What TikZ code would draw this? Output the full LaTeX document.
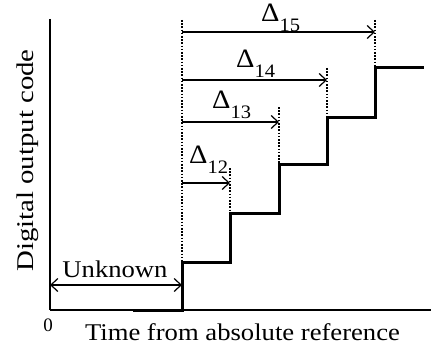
\documentclass[tikz,border=0pt]{standalone}
\usepackage{fontspec}
\setmainfont{Liberation Serif}
\usetikzlibrary{arrows.meta}
\newcommand{\dlab}[1]{\scalebox{1.08}[1]{Δ\raisebox{-0.38em}{\fontsize{19}{19}\selectfont #1}}}
\newcommand{\wtext}[1]{\scalebox{1.11}[1]{#1}}
\begin{document}
\begin{tikzpicture}[x=1pt,y=-1pt,
 axis/.style={line width=2.8pt},
 xaxis/.style={line width=2.2pt},
 stair/.style={line width=3pt, line join=miter},
 guide/.style={line width=1.4pt, dash pattern=on 1.6pt off 1.6pt},
 tip/.tip={Straight Barb[length=7pt,width=13pt,line width=1.2pt]},
 meas/.style={line width=1.2pt,-tip},
 both/.style={line width=1.2pt,tip-tip},
 big/.style={inner sep=0pt, font=\fontsize{24}{24}\selectfont},
 dl/.style={inner sep=0pt, anchor=base west, font=\fontsize{26.5}{26.5}\selectfont}
]
\useasboundingbox (0,0) rectangle (431,353);
% axes
\coordinate (O) at (50,310);
\coordinate (Ytop) at (50,19);
\coordinate (Xend) at (431,310);
\draw[xaxis] (O) -- (Xend);
\draw[axis] (Ytop) -- (O);
% staircase
\coordinate (s0) at (133,310);
\coordinate (s1) at (182,310);
\coordinate (s1t) at (182,262);
\coordinate (s2) at (230,262);
\coordinate (s2t) at (230,213);
\coordinate (s3) at (279,213);
\coordinate (s3t) at (279,164);
\coordinate (s4) at (327,164);
\coordinate (s4t) at (327,117);
\coordinate (s5) at (375,117);
\coordinate (s5t) at (375,68);
\coordinate (s6) at (424,68);
\draw[stair] (s0) -- (s1) -- (s1t) -- (s2) -- (s2t) -- (s3) -- (s3t) -- (s4) -- (s4t) -- (s5) -- (s5t) -- (s6);
% dotted guides
\coordinate (g1) at (182,20);
\coordinate (g2) at (230,168);
\coordinate (g3) at (279,107);
\coordinate (g4) at (327,68);
\coordinate (g5) at (375,20);
\draw[guide] (g1) -- (s1t);
\draw[guide] (g2) -- (s2t);
\draw[guide] (g3) -- (s3t);
\draw[guide] (g4) -- (s4t);
\draw[guide] (g5) -- (s5t);
% delay arrows
\coordinate (a12) at (182,183); \coordinate (b12) at (230,183);
\coordinate (a13) at (182,122); \coordinate (b13) at (279,122);
\coordinate (a14) at (182,80);  \coordinate (b14) at (327,80);
\coordinate (a15) at (182,32);  \coordinate (b15) at (375,32);
\draw[meas] (a12) -- (b12);
\draw[meas] (a13) -- (b13);
\draw[meas] (a14) -- (b14);
\draw[meas] (a15) -- (b15);
\node[dl] (d12) at (189,163) {\dlab{12}};
\node[dl] (d13) at (212,108) {\dlab{13}};
\node[dl] (d14) at (236,67) {\dlab{14}};
\node[dl] (d15) at (261,21.5) {\dlab{15}};
% unknown
\coordinate (u1) at (50,285);
\coordinate (u2) at (182,285);
\draw[both] (u1) -- (u2);
\node[big, anchor=base] (unk) at (115,277) {\wtext{Unknown}};
% labels
\node[inner sep=0pt, anchor=base, font=\fontsize{19}{19}\selectfont] (zero) at (48,331) {0};
\node[big, anchor=base] (xl) at (242.5,340) {\wtext{Time from absolute reference}};
\node[big, anchor=base, rotate=90] (yl) at (33,160.5) {\scalebox{1.2}[1]{Digital output code}};
\end{tikzpicture}
\end{document}
